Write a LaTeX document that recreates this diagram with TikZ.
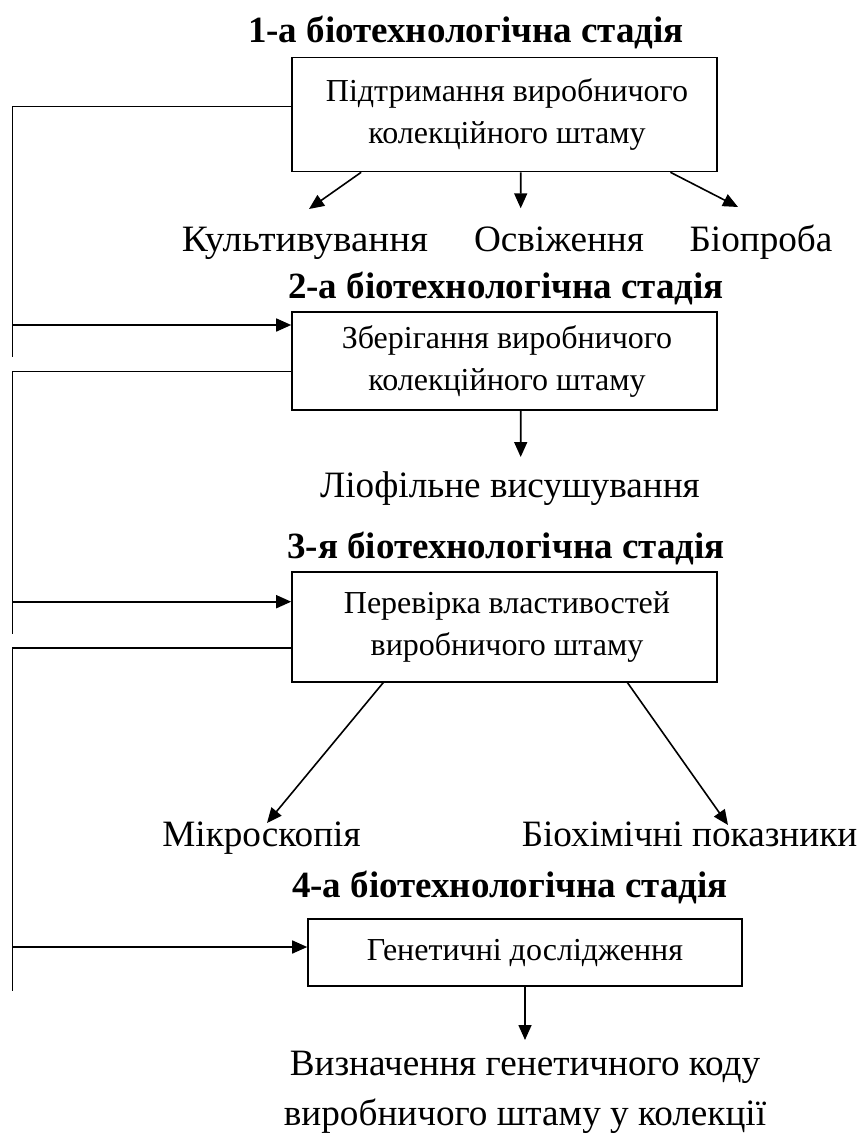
\documentclass[tikz,border=0pt]{standalone}
\usepackage{fontspec}
\setmainfont{Liberation Serif}
\usetikzlibrary{arrows.meta,calc}
\begin{document}
\begin{tikzpicture}[x=1pt,y=-1pt,line width=1.6pt,
  boxst/.style={draw,line width=1.6pt,inner sep=0pt,align=center,
    font=\fontsize{32}{42}\selectfont},
  arr/.style={-{Triangle[length=15pt,width=13pt]}},
  ttl/.style={font=\fontsize{37}{44}\selectfont\bfseries,anchor=base,inner sep=0pt},
  lbl/.style={font=\fontsize{37.2}{50}\selectfont,anchor=base,inner sep=0pt,align=center}]
\useasboundingbox (0,0) rectangle (860,1142);

% titles
\node[ttl] (t1) at (466,43) {1-а біотехнологічна стадія};
\node[ttl] (t2) at (506,298) {2-а біотехнологічна стадія};
\node[ttl] (t3) at (506,558) {3-я біотехнологічна стадія};
\node[ttl] (t4) at (510,897) {4-а біотехнологічна стадія};

% boxes
\node[boxst,minimum width=425pt,minimum height=114pt] (b1) at (504.5,114.5)
  {\hspace*{5pt}Підтримання виробничого\\\hspace*{5pt}колекційного штаму};
\node[boxst,minimum width=425pt,minimum height=98pt] (b2) at (504.5,361)
  {\hspace*{5pt}Зберігання виробничого\\\hspace*{5pt}колекційного штаму};
\node[boxst,minimum width=425pt,minimum height=110pt] (b3) at (504.5,626.7)
  {\hspace*{5pt}Перевірка властивостей\\\hspace*{5pt}виробничого штаму};
\node[boxst,minimum width=434pt,minimum height=67pt] (b4) at (525,952.5)
  {Генетичні дослідження};

% labels
\node[lbl] (l1) at (305,251.7) {\scalebox{1.05}[1]{Культивування}};
\node[lbl] (l2) at (559,251.7) {Освіження};
\node[lbl] (l3) at (761,251.7) {Біопроба};
\node[lbl] (l4) at (510,497) {Ліофільне висушування};
\node[lbl] (l5) at (261.5,846) {Мікроскопія};
\node[lbl] (l6) at (689.5,846) {Біохімічні показники};
\node[lbl,anchor=north] (l7) at (525,1050) {Визначення генетичного коду\\виробничого штаму у колекції};

% arrow tips
\coordinate (p1) at (309,209);
\coordinate (p2) at (520.7,208.3);
\coordinate (p3) at (738,207);
\coordinate (p4) at (520.7,457);
\coordinate (p5) at (267,823);
\coordinate (p6) at (728,825);
\coordinate (p7) at (525,1040);

\draw[arr] ($(b1.south west)!0.164!(b1.south east)$) -- (p1);
\draw[arr] ($(b1.south west)!0.538!(b1.south east)$) -- (p2);
\draw[arr] ($(b1.south west)!0.889!(b1.south east)$) -- (p3);
\draw[arr] ($(b2.south west)!0.538!(b2.south east)$) -- (p4);
\draw[arr] ($(b3.south west)!0.216!(b3.south east)$) -- (p5);
\draw[arr] ($(b3.south west)!0.788!(b3.south east)$) -- (p6);
\draw[arr] (b4.south) -- (p7);

% left feedback lines
\coordinate (c1a) at (12.5,106.7);
\coordinate (c1b) at (12.5,357);
\coordinate (c1r) at (12.5,325);
\coordinate (c2a) at (12.5,371.5);
\coordinate (c2b) at (12.5,634);
\coordinate (c2r) at (12.5,601.7);
\coordinate (c3a) at (12.5,647.7);
\coordinate (c3b) at (12.5,991);
\coordinate (c3r) at (12.5,947);

\draw (b1.west |- c1a) -- (c1a) -- (c1b);
\draw[arr] (c1r) -- (b2.west |- c1r);
\draw (b2.west |- c2a) -- (c2a) -- (c2b);
\draw[arr] (c2r) -- (b3.west |- c2r);
\draw (b3.west |- c3a) -- (c3a) -- (c3b);
\draw[arr] (c3r) -- (b4.west |- c3r);
\end{tikzpicture}
\end{document}
